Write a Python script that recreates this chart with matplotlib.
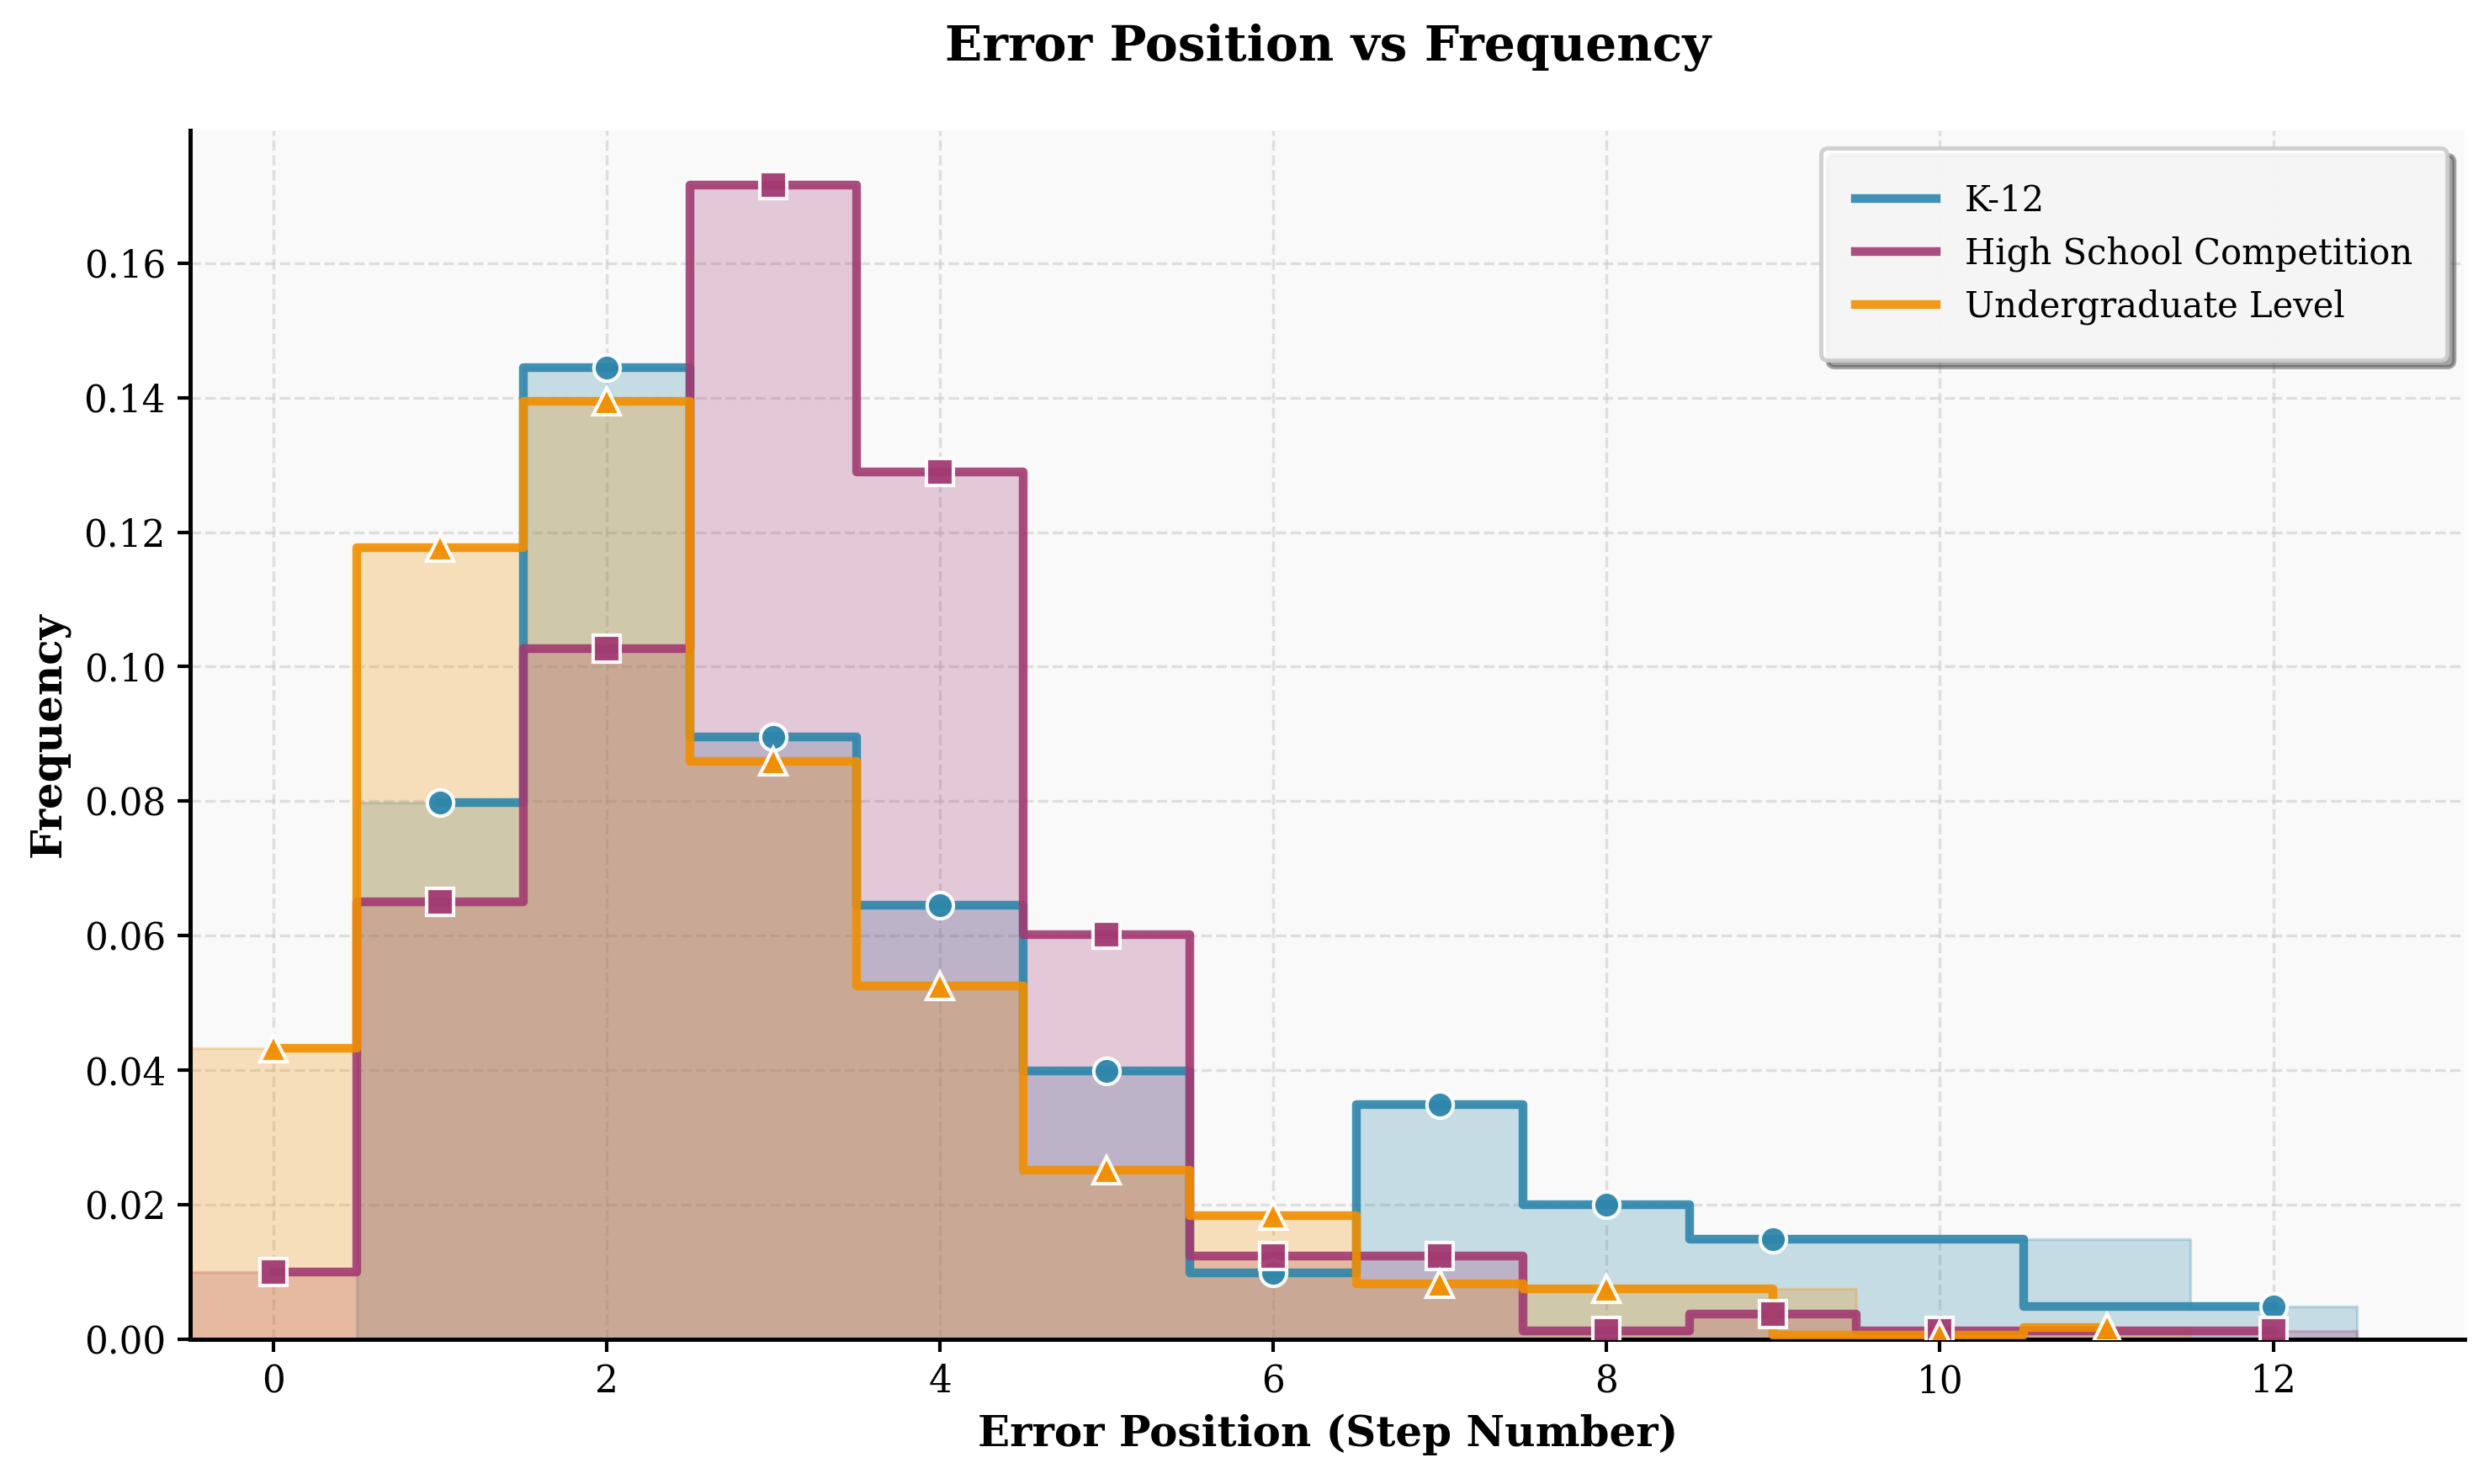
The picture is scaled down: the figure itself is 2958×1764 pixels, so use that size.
import matplotlib.pyplot as plt
from matplotlib.ticker import MultipleLocator
import numpy as np

# Frequencies, by error position
k12_pos = [1, 2, 3, 4, 5, 6, 7, 8, 9, 12]
k12_freq = [0.0798, 0.1444, 0.0895, 0.0646, 0.0399, 0.0099, 0.0349, 0.0200, 0.0149, 0.0049]

hs_pos = [0, 1, 2, 3, 4, 5, 6, 7, 8, 9, 10, 12]
hs_freq = [0.0100, 0.0650, 0.1027, 0.1716, 0.1289, 0.0601, 0.0124, 0.0124, 0.0012, 0.0037, 0.0012, 0.0012]

ug_pos = [0, 1, 2, 3, 4, 5, 6, 7, 8, 10, 11]
ug_freq = [0.0433, 0.1177, 0.1394, 0.0859, 0.0525, 0.0251, 0.0184, 0.0083, 0.0075, 0.0006, 0.0017]

labels = ["K-12", "High School Competition", "Undergraduate Level"]
colors = ["#2E86AB", "#A23B72", "#F18F01"]
markers = ["o", "s", "^"]

plt.rcParams["font.family"] = "serif"

fig, ax = plt.subplots(figsize=(9.863, 5.88), dpi=300)
fig.subplots_adjust(left=0.0764, right=0.99, top=0.912, bottom=0.0975)
ax.set_facecolor("#f9f9f9")

series = [(k12_pos, k12_freq), (hs_pos, hs_freq), (ug_pos, ug_freq)]
for (pos, freq), lab, col, mk in zip(series, labels, colors, markers):
    pos = np.array(pos, dtype=float)
    freq = np.array(freq)
    # filled bars: each value held until the next observed position
    edges = np.append(pos - 0.5, pos[-1] + 0.5)
    heights = np.append(freq, freq[-1])
    ax.fill_between(edges, heights, step="post", color=col, alpha=0.25, linewidth=0.8, zorder=1)
    # step outline + markers
    ax.step(pos, freq, where="mid", color=col, lw=2.5, alpha=0.9, label=lab, zorder=3)
    ax.plot(pos, freq, linestyle="none", marker=mk, markersize=7.5, color=col,
            markeredgecolor="white", markeredgewidth=1.0, alpha=0.95, zorder=4)

ax.set_xlim(-0.5, 13.15)
ax.set_ylim(0, 0.1797)
ax.set_xticks(range(0, 13, 2))
ax.yaxis.set_major_locator(MultipleLocator(0.02))
ax.yaxis.set_major_formatter(lambda v, p: f"{v:.2f}")

ax.grid(True, linestyle="--", color="#cccccc", alpha=0.6, linewidth=0.8)
ax.set_axisbelow(True)
for s in ["top", "right"]:
    ax.spines[s].set_visible(False)
for s in ["left", "bottom"]:
    ax.spines[s].set_linewidth(1.2)
ax.tick_params(labelsize=10.5, width=1.0, length=3.5)

ax.set_xlabel("Error Position (Step Number)", fontsize=12, fontweight="bold")
ax.set_ylabel("Frequency", fontsize=12, fontweight="bold")
ax.set_title("Error Position vs Frequency", fontsize=14, fontweight="bold", pad=20)

leg = ax.legend(loc="upper right", fontsize=10, frameon=True, fancybox=True, shadow=True,
                framealpha=0.9, facecolor="white", edgecolor="#cccccc", borderpad=1.0,
                handlelength=2.3)
leg.get_frame().set_linewidth(1.2)

fig.savefig("out.png", dpi=300)
